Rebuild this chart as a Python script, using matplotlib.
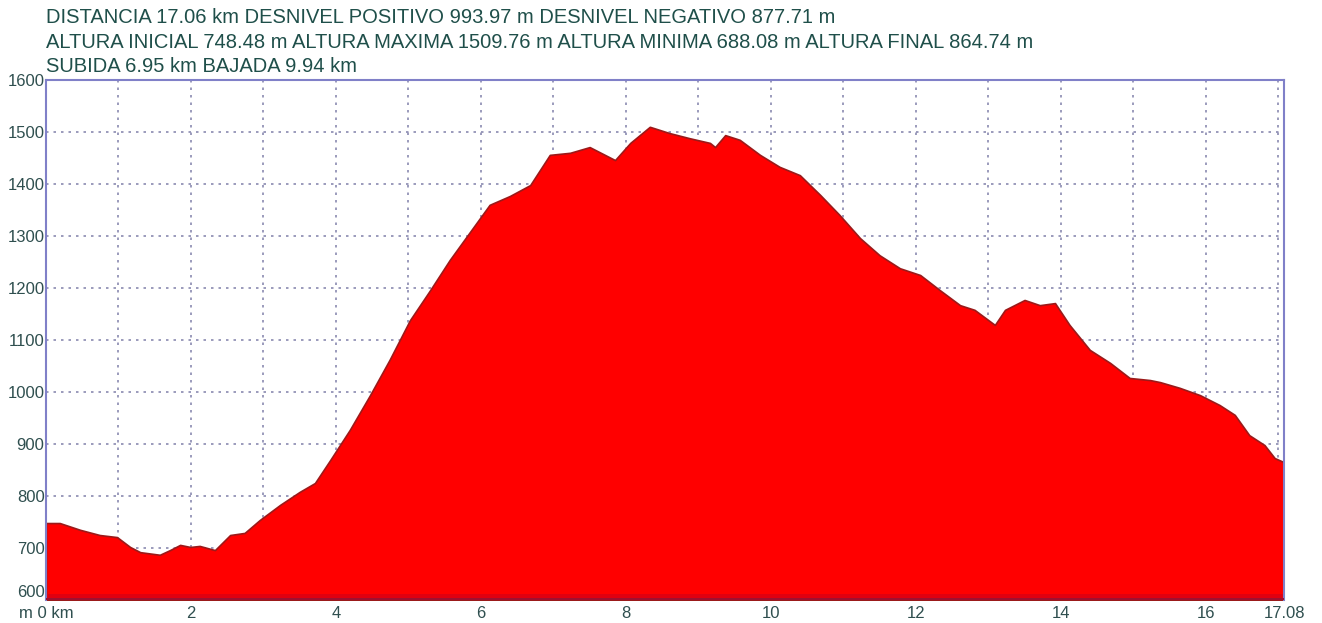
import matplotlib.pyplot as plt
import matplotlib.ticker as mticker

plt.rcParams['font.family'] = ['Liberation Sans', 'DejaVu Sans']

# perfil: distancia (km) y altura (m)
dist = [0.0, 0.19, 0.47, 0.74, 0.98, 1.16, 1.30, 1.57, 1.71, 1.85, 1.99, 2.12,
        2.33, 2.54, 2.74, 2.95, 3.23, 3.50, 3.71, 3.92, 4.19, 4.47, 4.74, 5.02,
        5.30, 5.57, 5.85, 6.12, 6.40, 6.68, 6.95, 7.23, 7.50, 7.71, 7.85, 8.06,
        8.33, 8.60, 8.88, 9.16, 9.23, 9.37, 9.57, 9.85, 10.12, 10.40, 10.68,
        10.95, 11.23, 11.50, 11.78, 12.06, 12.33, 12.61, 12.81, 13.09, 13.23,
        13.50, 13.71, 13.92, 14.12, 14.40, 14.68, 14.95, 15.23, 15.37, 15.64,
        15.92, 16.19, 16.40, 16.60, 16.81, 16.95, 17.08]
alt = [748, 748, 735, 725, 721, 702, 692, 687, 696, 706, 702, 704,
       696, 725, 729, 754, 783, 808, 825, 869, 927, 994, 1062, 1138,
       1196, 1254, 1308, 1360, 1377, 1398, 1456, 1460, 1471, 1456, 1446, 1479,
       1510, 1498, 1488, 1479, 1471, 1494, 1485, 1456, 1433, 1417, 1379,
       1340, 1296, 1263, 1238, 1225, 1196, 1167, 1158, 1129, 1158,
       1177, 1167, 1171, 1129, 1081, 1056, 1027, 1023, 1019, 1008,
       994, 975, 956, 917, 898, 873, 865]

xticks = [0, 2, 4, 6, 8, 10, 12, 14, 16, 17.08]
xlabels = ['m 0 km', '2', '4', '6', '8', '10', '12', '14', '16', '17.08']
yticks = [600, 700, 800, 900, 1000, 1100, 1200, 1300, 1400, 1500, 1600]

header = ["DISTANCIA 17.06 km DESNIVEL POSITIVO 993.97 m DESNIVEL NEGATIVO 877.71 m",
          "ALTURA INICIAL 748.48 m ALTURA MAXIMA 1509.76 m ALTURA MINIMA 688.08 m ALTURA FINAL 864.74 m",
          "SUBIDA 6.95 km BAJADA 9.94 km"]

fig = plt.figure(figsize=(13.22, 6.23), dpi=100)
ax = fig.add_axes([0.0348, 0.0369, 0.9365, 0.8347])

ax.fill_between(dist, 600, alt, color='#ff0000', edgecolor='#9b1a1a', linewidth=1.2, zorder=2)
ax.axhspan(600, 612, color='#e00010', zorder=2.5, lw=0)
ax.axhspan(600, 604, color='#a01030', zorder=2.6, lw=0)

ax.set_xlim(0, 17.08)
ax.set_ylim(600, 1600)
ax.set_xticks(xticks)
ax.set_xticklabels(xlabels)
ax.set_yticks(yticks)
ax.xaxis.set_minor_locator(mticker.MultipleLocator(1))
ax.tick_params(which='both', length=0)
ax.tick_params(axis='both', labelsize=12, colors='#2f4f4f')
ax.tick_params(axis='y', pad=1)
ax.tick_params(axis='x', pad=4)
ax.get_yticklabels()[0].set_va('bottom')

ax.grid(True, which='both', axis='x', color='#8a8ab0', linestyle=(0, (1.5, 3)), linewidth=1.2, zorder=1)
ax.grid(True, axis='y', color='#8a8ab0', linestyle=(0, (1.5, 3)), linewidth=1.2, zorder=1)

for side in ['left', 'right', 'top']:
    ax.spines[side].set_color('#8080c8')
    ax.spines[side].set_linewidth(1.5)
ax.spines['bottom'].set_visible(False)

for i, line in enumerate(header):
    fig.text(0.035, 0.972 - i * 0.0395, line, fontsize=14.5, color='#1f4f4a', va='center', ha='left')

plt.savefig('out.png', dpi=100)
